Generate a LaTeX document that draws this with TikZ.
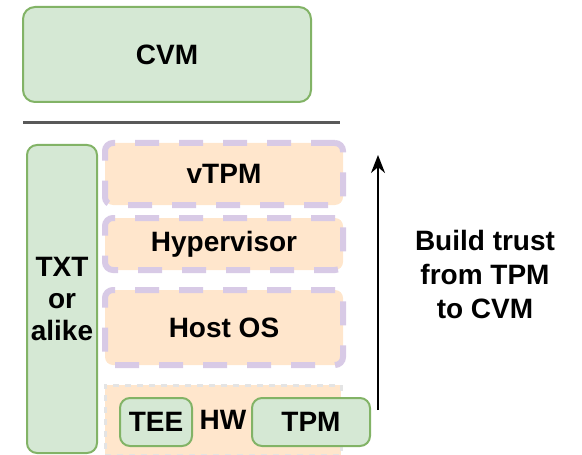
\documentclass[tikz,border=0pt]{standalone}
\usepackage{fontspec}
\setmainfont{Liberation Sans}
\usepackage{tikz}
\usetikzlibrary{arrows.meta, positioning}
\usepackage{xcolor}

\definecolor{boxgreen}{HTML}{D5E8D4}
\definecolor{linegreen}{HTML}{82B366}
\definecolor{boxorange}{HTML}{FFE6CC}
\definecolor{linepurple}{HTML}{D8CAE6}
\definecolor{linegray}{HTML}{E4E4E4}

\begin{document}
\begin{tikzpicture}[
		x=0.5pt, y=-0.5pt,
		font=\fontsize{14}{16}\selectfont\bfseries,
		greenbox/.style={
			draw=linegreen,
			fill=boxgreen,
			line width=1pt,
			rounded corners=5pt,
			align=center,
			inner sep=1pt
		},
		layer/.style={
			draw=linepurple,
			fill=boxorange,
			line width=3pt,
			dash pattern=on 12pt off 10pt,
			rounded corners=4pt,
			minimum width=119pt
		},
		hwbox/.style={
			draw=linegray,
			fill=boxorange,
			line width=1.5pt,
			dash pattern=on 3pt off 3pt,
			minimum width=118pt,
			minimum height=35pt
		},
		arrow/.style={
			-{Stealth[length=9pt,width=7pt]},
			line width=1.1pt
		}
		]
		\useasboundingbox (0,0) rectangle (582,454);
		
		% Maquina virtual confidencial
		\node[greenbox, rounded corners=6pt, minimum width=144pt, minimum height=47.5pt] (cvm) at (167,54.5) {CVM};
		
		% Separacao
		\coordinate (sepl) at (23,123);
		\coordinate (sepr) at (340,123);
		\draw[line width=1.5pt, black!65] (sepl) -- (sepr);
		
		% Pilha do host
		\node[greenbox, minimum width=35pt, minimum height=154pt] (txt) at (62,299) {TXT\\or\\alike};
		\node[layer, minimum height=31pt] (vtpm) at (224,174) {vTPM};
		\node[layer, minimum height=26pt] (hyper) at (224,244) {Hypervisor};
		\node[layer, minimum height=37.5pt] (hostos) at (224,327.5) {Host OS};
		
		% Hardware
		\node[hwbox] (hw) at (223,420) {HW};
		\node[greenbox, minimum width=36pt, minimum height=24pt] (tee) at (156,422) {TEE};
		\node[greenbox, minimum width=59pt, minimum height=24pt] (tpm) at (311,422) {TPM};
		
		% Cadeia de confianca
		\coordinate (trustlo) at (378,410);
		\coordinate (trusthi) at (378,155);
		\draw[arrow] (trustlo) -- (trusthi);
		\node[align=center, font=\fontsize{14}{17}\selectfont\bfseries] (trust) at (485,274) {Build trust\\from TPM\\to CVM};
		
	\end{tikzpicture}
\end{document}
